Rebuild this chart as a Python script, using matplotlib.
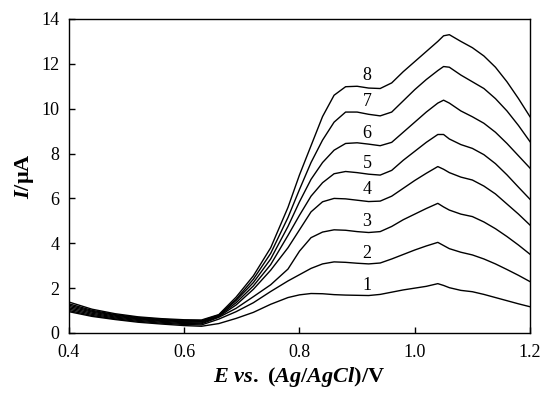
import numpy as np
import matplotlib
matplotlib.use("Agg")
import matplotlib.pyplot as plt

plt.rcParams['font.family'] = 'Liberation Serif'
plt.rcParams['mathtext.fontset'] = 'custom'
plt.rcParams['mathtext.it'] = 'Liberation Serif:italic:bold'
plt.rcParams['mathtext.rm'] = 'Liberation Serif:bold'

# potential grid (V) shared by every scan
E = [0.40, 0.44, 0.48, 0.52, 0.56, 0.60, 0.63, 0.66, 0.69, 0.72, 0.75, 0.78,
     0.80, 0.82, 0.84, 0.86, 0.88, 0.90, 0.92, 0.94, 0.96, 0.98, 1.00, 1.02,
     1.04, 1.05, 1.06, 1.08, 1.10, 1.12, 1.14, 1.16, 1.18, 1.20]

# current (uA)
c1 = [0.95, 0.74, 0.60, 0.48, 0.40, 0.33, 0.30, 0.42, 0.65, 0.92, 1.28, 1.58,
      1.70, 1.76, 1.75, 1.71, 1.69, 1.68, 1.67, 1.72, 1.82, 1.92, 2.00, 2.08,
      2.20, 2.12, 2.02, 1.90, 1.84, 1.72, 1.58, 1.44, 1.30, 1.17]
c2 = [1.00, 0.78, 0.63, 0.52, 0.44, 0.38, 0.36, 0.62, 0.95, 1.35, 1.85, 2.32,
      2.60, 2.88, 3.08, 3.17, 3.15, 3.11, 3.08, 3.12, 3.30, 3.50, 3.70, 3.88,
      4.04, 3.90, 3.76, 3.60, 3.48, 3.30, 3.08, 2.83, 2.57, 2.29]
c3 = [1.06, 0.83, 0.67, 0.56, 0.48, 0.42, 0.41, 0.70, 1.10, 1.62, 2.15, 2.85,
      3.65, 4.25, 4.50, 4.60, 4.58, 4.52, 4.48, 4.52, 4.75, 5.05, 5.30, 5.55,
      5.78, 5.62, 5.48, 5.30, 5.19, 4.95, 4.65, 4.30, 3.92, 3.51]
c4 = [1.12, 0.88, 0.71, 0.60, 0.52, 0.46, 0.45, 0.73, 1.25, 1.95, 2.80, 3.80,
      4.60, 5.40, 5.85, 6.00, 5.98, 5.92, 5.86, 5.88, 6.10, 6.45, 6.80, 7.12,
      7.42, 7.30, 7.15, 6.95, 6.82, 6.55, 6.20, 5.75, 5.30, 4.81]
c5 = [1.18, 0.93, 0.75, 0.63, 0.55, 0.50, 0.49, 0.76, 1.35, 2.10, 3.05, 4.35,
      5.25, 6.10, 6.70, 7.10, 7.20, 7.15, 7.08, 7.04, 7.25, 7.70, 8.10, 8.50,
      8.85, 8.85, 8.65, 8.40, 8.23, 7.95, 7.55, 7.05, 6.50, 5.96]
c6 = [1.24, 0.97, 0.79, 0.66, 0.58, 0.53, 0.52, 0.78, 1.45, 2.25, 3.30, 4.75,
      5.85, 6.85, 7.60, 8.15, 8.45, 8.48, 8.42, 8.35, 8.50, 8.95, 9.40, 9.85,
      10.25, 10.38, 10.25, 9.90, 9.64, 9.35, 8.95, 8.45, 7.90, 7.35]
c7 = [1.30, 1.01, 0.82, 0.69, 0.61, 0.56, 0.55, 0.80, 1.50, 2.40, 3.55, 5.15,
      6.40, 7.60, 8.60, 9.40, 9.85, 9.85, 9.75, 9.68, 9.85, 10.35, 10.85, 11.30,
      11.70, 11.88, 11.85, 11.50, 11.20, 10.90, 10.45, 9.90, 9.25, 8.53]
c8 = [1.38, 1.06, 0.86, 0.72, 0.64, 0.59, 0.58, 0.82, 1.60, 2.55, 3.80, 5.60,
      7.05, 8.35, 9.65, 10.60, 10.98, 11.00, 10.92, 10.90, 11.15, 11.65, 12.10, 12.55,
      13.00, 13.25, 13.30, 13.00, 12.72, 12.35, 11.85, 11.20, 10.45, 9.64]

curves = [c1, c2, c3, c4, c5, c6, c7, c8]
labels = ['1', '2', '3', '4', '5', '6', '7', '8']
label_x = 0.917
label_y = [2.1, 3.55, 4.96, 6.38, 7.57, 8.9, 10.31, 11.5]

fig = plt.figure(figsize=(5.44, 3.93), dpi=100)
ax = fig.add_axes([0.1268, 0.1527, 0.8475, 0.799])

for c in curves:
    ax.plot(E, c, color='black', lw=1.0)
for lab, ly in zip(labels, label_y):
    ax.text(label_x, ly, lab, fontsize=13, ha='center', va='center')

ax.set_xlim(0.4, 1.2)
ax.set_ylim(0, 14)
ax.set_xticks([0.4, 0.6, 0.8, 1.0, 1.2])
ax.set_xticklabels(['0.4', '0.6', '0.8', '1.0', '1.2'])
ax.set_yticks(range(0, 15, 2))
ax.tick_params(direction='in', length=4.5, width=1.0, labelsize=13)
ax.tick_params(axis='x', pad=8)
ax.tick_params(axis='y', pad=7)
for s in ax.spines.values():
    s.set_linewidth(1.0)

ax.set_xlabel(r'$\mathit{E\ vs.\ (Ag/AgCl)}$/V', fontsize=16, fontweight='bold', labelpad=3)
ax.set_ylabel(r'$\mathit{I}$/µA', fontsize=16, fontweight='bold', labelpad=4)

fig.savefig('out.png', dpi=100)
